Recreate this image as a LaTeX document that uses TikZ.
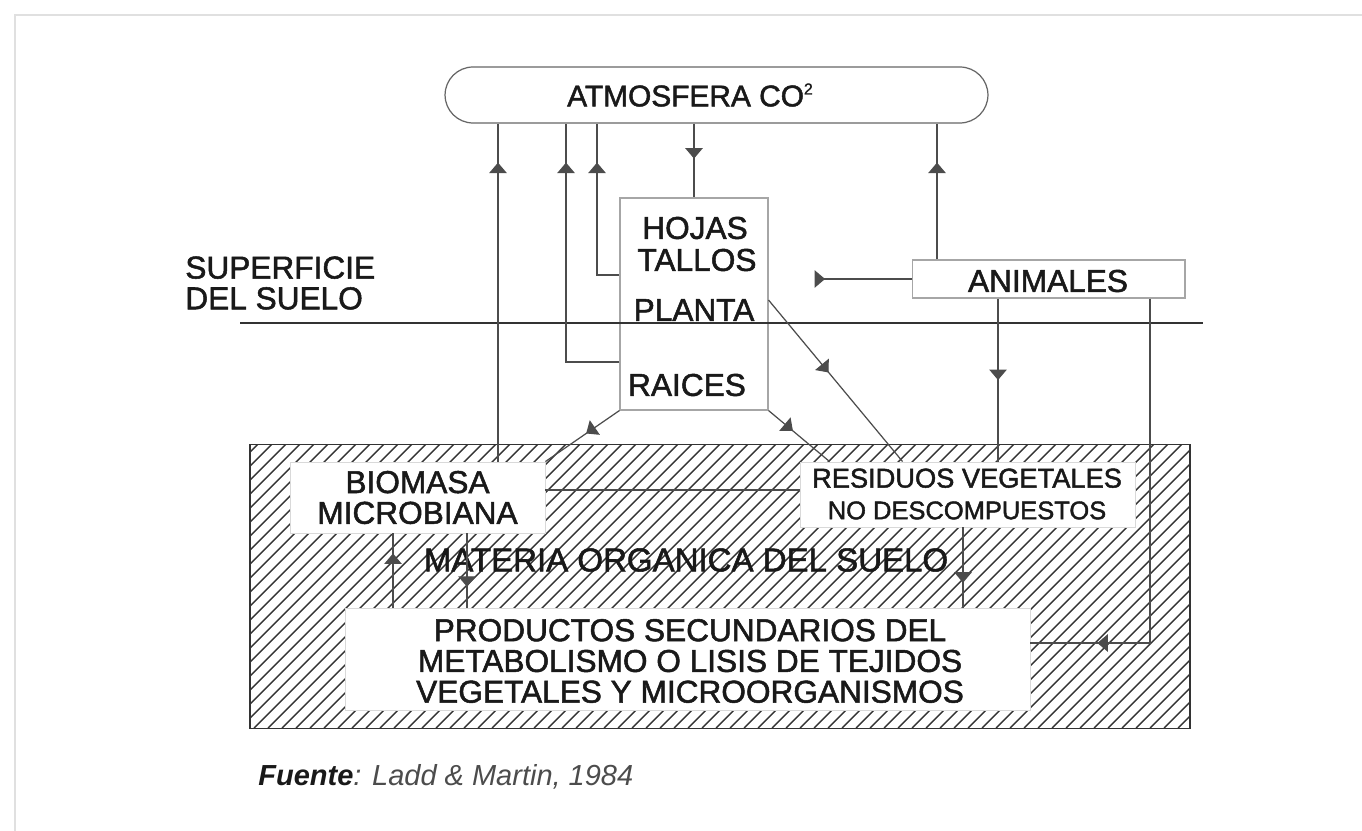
\documentclass[tikz,border=0pt]{standalone}
\usepackage{fontspec}
\setmainfont{Liberation Sans}
\newfontfamily\diagfont{Liberation Sans}[FakeBold=1.6]
\usetikzlibrary{arrows.meta,decorations.markings,calc}

\begin{document}
\begin{tikzpicture}[x=0.02cm, y=-0.02cm,
    lbl/.style={font=\diagfont\fontsize{18}{17.5}\selectfont, text=black!90, align=center, inner sep=0pt},
    box/.style={draw=black!35, line width=0.6pt, fill=white, inner sep=0pt},
    soilbox/.style={draw=black!15, line width=0.5pt, fill=white, inner sep=0pt},
    flow/.style={draw=black!70, line width=0.7pt},
    flowtip/.style={postaction={decorate}, decoration={markings, mark=at position #1 with {\arrow{Triangle[width=10pt,length=6pt]}}}},
    hatchline/.style={draw=black!80, line width=0.8pt}
]
    \useasboundingbox (0,0) rectangle (1362,831);
    \draw[black!12, line width=1.2pt] (15,831) -- (15,15) -- (1362,15);

    % Atmosphere
    \node[draw=black!60, line width=0.7pt, rounded corners=0.56cm, minimum width=10.86cm, minimum height=1.12cm] (atm) at (716.5,95) {};
    \node[lbl, font=\diagfont\fontsize{17}{17}\selectfont] (atmlbl) at (690,95) {ATMOSFERA CO\raisebox{0.75ex}{\fontsize{9}{9}\selectfont 2}};

    % Plant
    \node[box, minimum width=2.96cm, minimum height=4.24cm] (plant) at (694,304) {};
    \node[lbl] (hojas) at (695,228) {HOJAS};
    \node[lbl] (tallos) at (697,260) {TALLOS};
    \node[lbl] (planta) at (694,310) {PLANTA};
    \node[lbl] (raices) at (687,385) {RAICES};

    % Animals
    \node[box, minimum width=5.46cm, minimum height=0.76cm] (animales) at (1048.5,279) {};
    \node[lbl] (animlbl) at (1048,281) {ANIMALES};

    % Soil surface
    \draw[black!80, line width=0.7pt] (240,323) -- (1203,323);
    \node[lbl, align=left, anchor=west] (surface) at (185,283) {SUPERFICIE\\DEL SUELO};

    % Soil organic matter (hatched)
    \node[minimum width=18.8cm, minimum height=5.66cm, inner sep=0pt] (soil) at (720,586.5) {};
    \begin{scope}
        \clip (soil.north west) rectangle (soil.south east);
        \foreach \hx in {-40,-26,...,1190}
            \draw[hatchline] (\hx,728) -- ++(300,-300);
    \end{scope}
    \draw[black!80, line width=0.9pt] (soil.north west) rectangle (soil.south east);

    \node[soilbox, minimum width=5.1cm, minimum height=1.42cm] (biomasa) at (417.5,497.5) {};
    \node[lbl] (biolbl) at (biomasa) {BIOMASA\\MICROBIANA};
    \node[soilbox, minimum width=6.7cm, minimum height=1.3cm] (residuos) at (967.5,494.5) {};
    \node[lbl, font=\diagfont\fontsize{15.5}{18}\selectfont] (reslbl) at (967,494) {RESIDUOS VEGETALES\\{\fontsize{14.5}{18}\selectfont NO DESCOMPUESTOS}};
    \node[lbl, font=\diagfont\fontsize{18.8}{18}\selectfont] (materia) at (686,560) {MATERIA ORGANICA DEL SUELO};
    \node[soilbox, minimum width=13.7cm, minimum height=2.04cm] (productos) at (687.5,659) {};
    \node[lbl] (prodlbl) at (690,661) {PRODUCTOS SECUNDARIOS DEL\\METABOLISMO O LISIS DE TEJIDOS\\VEGETALES Y MICROORGANISMOS};

    \draw[flow] ([yshift=0.15cm]biomasa.east) -- ([yshift=0.15cm]biomasa.east -| residuos.west);

    % Exchanges with the atmosphere
    \draw[flow, flowtip=-0.78cm] ([xshift=1.61cm]biomasa.north) coordinate (b1) -- (b1 |- atm.south);
    \draw[flow, flowtip=-0.78cm] ([yshift=-1.16cm]plant.west) -| ([xshift=-3.01cm]atm.south);
    \draw[flow, flowtip=-0.78cm] ([yshift=0.58cm]plant.west) -| ([xshift=-2.39cm]atm.south);
    \draw[flow, flowtip=0.7cm] (plant.north |- atm.south) -- (plant.north);
    \draw[flow, flowtip=-0.78cm] ([xshift=-2.23cm]animales.north) coordinate (a1) -- (a1 |- atm.south);

    % Plant and animals to soil
    \coordinate (eat) at ($(animales.west)+(-97,0)$);
    \draw[flow, {Triangle[reversed, width=10pt, length=6pt]}-] (eat) -- (animales.west);
    \draw[flow, flowtip=0.45] (plant.south west) -- (biomasa.north east);
    \draw[flow, flowtip=0.4] (plant.south east) -- ([xshift=0.6cm]residuos.north west);
    \draw[flow, flowtip=0.45] ([yshift=0.08cm]plant.east) -- ([xshift=2.06cm]residuos.north west);
    \draw[flow, flowtip=0.5] ([xshift=-1.01cm]animales.south) coordinate (a2) -- (a2 |- residuos.north);
    \draw[flow, flowtip=-1.34cm] ([xshift=2.03cm]animales.south) |- ([yshift=0.32cm]productos.east);

    % Inside the soil
    \draw[flow, flowtip=0.73] ([xshift=-0.49cm]biomasa.south |- productos.north) coordinate (p1) -- (p1 |- biomasa.south);
    \draw[flow, flowtip=0.72] ([xshift=0.99cm]biomasa.south) coordinate (p2) -- (p2 |- productos.north);
    \draw[flow, flowtip=0.69] ([xshift=-0.09cm]residuos.south) coordinate (p3) -- (p3 |- productos.north);

    \node[anchor=west, inner sep=0pt, font=\fontsize{16.5}{16.5}\selectfont\itshape, text=black!70] (source) at (258,777) {\textbf{\color{black!90}Fuente}: Ladd \& Martin, 1984};
\end{tikzpicture}
\end{document}
